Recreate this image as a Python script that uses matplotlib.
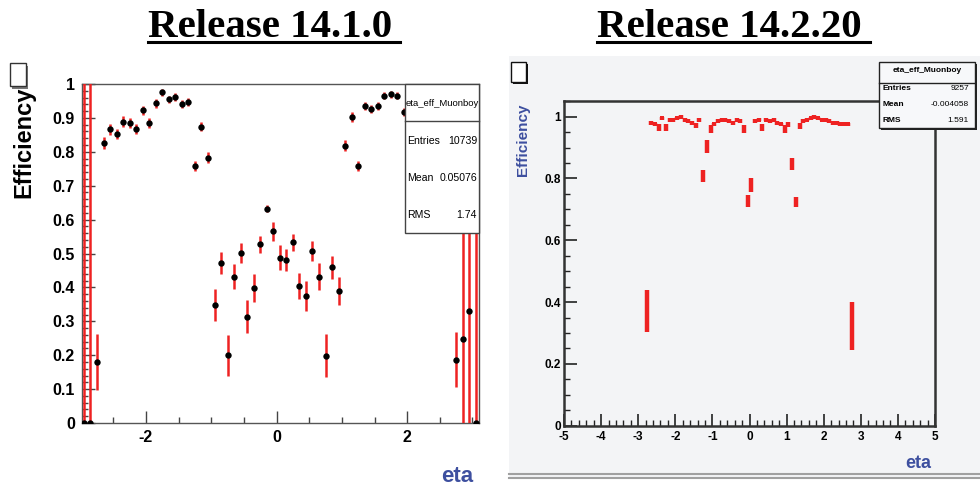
import matplotlib
matplotlib.use("Agg")
import matplotlib.pyplot as plt
from matplotlib.patches import Rectangle
from matplotlib.lines import Line2D
from matplotlib.ticker import MultipleLocator

W, H = 980, 487

# ---------------------------------------------------------------- data
# Release 14.1.0 : efficiency vs eta (black dots, red error bars)
old_eta = [-2.95, -2.85, -2.75,
           -2.65, -2.55, -2.45, -2.35, -2.25, -2.15, -2.05, -1.95, -1.85,
           -1.75, -1.65, -1.55, -1.45, -1.35, -1.25, -1.15, -1.05,
           -0.95, -0.85, -0.75, -0.65, -0.55, -0.45, -0.35, -0.25, -0.15, -0.05,
           0.05, 0.15, 0.25, 0.35, 0.45, 0.55, 0.65, 0.75, 0.85, 0.95,
           1.05, 1.15, 1.25, 1.35, 1.45, 1.55, 1.65, 1.75, 1.85, 1.95,
           2.75, 2.85, 2.95, 3.05]
old_eff = [0.0, 0.0, 0.18,
           0.827, 0.867, 0.852, 0.889, 0.885, 0.867, 0.922, 0.886, 0.943,
           0.975, 0.955, 0.961, 0.940, 0.947, 0.759, 0.874, 0.783,
           0.348, 0.472, 0.200, 0.432, 0.501, 0.314, 0.399, 0.527, 0.632, 0.565,
           0.488, 0.481, 0.533, 0.404, 0.374, 0.507, 0.432, 0.199, 0.459, 0.390,
           0.818, 0.903, 0.758, 0.934, 0.926, 0.934, 0.966, 0.970, 0.965, 0.917,
           0.187, 0.247, 0.331, 0.0]
old_err = [1.1, 1.1, 0.082,
           0.018, 0.016, 0.015, 0.016, 0.016, 0.015, 0.014, 0.015, 0.013,
           0.010, 0.011, 0.011, 0.012, 0.012, 0.015, 0.014, 0.015,
           0.046, 0.032, 0.061, 0.038, 0.029, 0.049, 0.041, 0.026, 0.010, 0.027,
           0.038, 0.032, 0.025, 0.038, 0.044, 0.029, 0.039, 0.064, 0.035, 0.042,
           0.016, 0.015, 0.014, 0.012, 0.012, 0.012, 0.010, 0.010, 0.010, 0.012,
           0.080, 1.0, 1.0, 1.1]
old_stats = [("Entries", "10739"), ("Mean", "0.05076"), ("RMS", "1.74")]

# Release 14.2.20 : efficiency vs eta (red squares)
new_eta = [-2.75, -2.65, -2.55, -2.45, -2.35, -2.25, -2.15, -2.05, -1.95, -1.85,
           -1.75, -1.65, -1.55, -1.45, -1.35, -1.25, -1.15, -1.05, -0.95, -0.85,
           -0.75, -0.65, -0.55, -0.45, -0.35, -0.25, -0.15, -0.05, 0.05, 0.15,
           0.25, 0.35, 0.45, 0.55, 0.65, 0.75, 0.85, 0.95, 1.05, 1.15,
           1.25, 1.35, 1.45, 1.55, 1.65, 1.75, 1.85, 1.95, 2.05, 2.15,
           2.25, 2.35, 2.45, 2.55, 2.65, 2.75]
new_eff = [0.370, 0.980, 0.975, 0.965, 0.995, 0.965, 0.990, 0.990, 0.995, 1.000,
           0.990, 0.985, 0.980, 0.970, 0.990, 0.808, 0.903, 0.960, 0.975, 0.985,
           0.990, 0.990, 0.985, 0.980, 0.990, 0.985, 0.960, 0.728, 0.779, 0.985,
           0.990, 0.965, 0.990, 0.985, 0.990, 0.980, 0.975, 0.960, 0.975, 0.847,
           0.725, 0.970, 0.985, 0.990, 0.995, 1.000, 0.995, 0.990, 0.990, 0.985,
           0.980, 0.980, 0.975, 0.975, 0.975, 0.322]
new_err = [0.068, 0.006, 0.006, 0.010, 0.005, 0.010, 0.006, 0.006, 0.005, 0.004,
           0.006, 0.006, 0.006, 0.008, 0.006, 0.020, 0.020, 0.012, 0.006, 0.006,
           0.005, 0.005, 0.006, 0.006, 0.005, 0.006, 0.012, 0.020, 0.022, 0.006,
           0.005, 0.012, 0.005, 0.006, 0.005, 0.006, 0.006, 0.012, 0.008, 0.020,
           0.016, 0.010, 0.006, 0.005, 0.005, 0.004, 0.005, 0.005, 0.005, 0.006,
           0.006, 0.006, 0.006, 0.006, 0.006, 0.077]
new_stats = [("Entries", "9257"), ("Mean", "-0.004058"), ("RMS", "1.591")]

old_yticks = [0, 0.1, 0.2, 0.3, 0.4, 0.5, 0.6, 0.7, 0.8, 0.9, 1]
old_ylabels = ["0", "0.1", "0.2", "0.3", "0.4", "0.5", "0.6", "0.7", "0.8", "0.9", "1"]
old_xticks = [-2, 0, 2]
new_yticks = [0, 0.2, 0.4, 0.6, 0.8, 1]
new_ylabels = ["0", "0.2", "0.4", "0.6", "0.8", "1"]
new_xticks = [-5, -4, -3, -2, -1, 0, 1, 2, 3, 4, 5]

RED = "#ee2222"
BLUE = "#3d4f9f"
PANEL = "#f3f4f6"
SANS = ["Liberation Sans", "DejaVu Sans"]


def fx(x):
    return x / W


def fy(y):
    return 1 - y / H


def frect(x0, y0, x1, y1, **kw):
    """rectangle given in pixel corners, drawn in figure coords"""
    return Rectangle((fx(x0), fy(y1)), fx(x1) - fx(x0), fy(y0) - fy(y1),
                     transform=fig.transFigure, **kw)


def fline(x0, y0, x1, y1, **kw):
    return Line2D([fx(x0), fx(x1)], [fy(y0), fy(y1)], transform=fig.transFigure, **kw)


fig = plt.figure(figsize=(W / 100, H / 100), dpi=100)
fig.patch.set_facecolor("white")

# ---------------------------------------------------------------- titles
for title, x0, x1 in [("Release 14.1.0", 148, 400), ("Release 14.2.20", 597, 870)]:
    fig.text(fx(x0), fy(37), title, ha="left", va="baseline", fontsize=29.5,
             fontweight="bold", family="Liberation Serif")
    fig.add_artist(fline(x0, 42, x1, 42, color="black", lw=2.2))

# ---------------------------------------------------------------- left panel
ax1 = fig.add_axes([fx(82), fy(423), fx(479) - fx(82), fy(84) - fy(423)])
ax1.errorbar(old_eta, old_eff, yerr=old_err, fmt="o", color="black", ms=4.6, mew=0,
             ecolor=RED, elinewidth=1.8, capsize=0, zorder=3)
ax1.set_xlim(-2.98, 3.10)
ax1.set_ylim(0, 1)
ax1.set_yticks(old_yticks)
ax1.set_yticklabels(old_ylabels)
ax1.set_xticks(old_xticks)
ax1.set_xticklabels([str(t) for t in old_xticks])
ax1.yaxis.set_minor_locator(MultipleLocator(0.02))
ax1.xaxis.set_minor_locator(MultipleLocator(0.5))
ax1.tick_params(which="major", direction="in", length=9, width=1, color="#444",
                labelsize=11.5, pad=5)
ax1.tick_params(which="minor", direction="in", length=4.5, width=1, color="#444")
for lbl in ax1.get_xticklabels() + ax1.get_yticklabels():
    lbl.set_fontweight("bold")
    lbl.set_family(SANS)
for s in ax1.spines.values():
    s.set_color("#555")
    s.set_linewidth(1)

fig.text(fx(24), fy(87), "Efficiency", rotation=90, ha="center", va="top",
         fontsize=17, fontweight="bold", family=SANS)
fig.text(fx(473), fy(476), "eta", ha="right", va="center", fontsize=16,
         fontweight="bold", color=BLUE, family=SANS)

# stats box
fig.add_artist(frect(405, 84, 479, 233, fc="white", ec="#444", lw=1, zorder=5))
fig.add_artist(fline(405, 121, 479, 121, color="#444", lw=1, zorder=6))
fig.text(fx(442), fy(103), "eta_eff_Muonboy", ha="center", va="center", fontsize=6.8,
         family=SANS, zorder=7)
for (name, val), y in zip(old_stats, [141, 178, 215]):
    fig.text(fx(407), fy(y), name, ha="left", va="center", fontsize=7.6,
             family=SANS, zorder=7)
    fig.text(fx(477), fy(y), val, ha="right", va="center", fontsize=7.6,
             family=SANS, zorder=7)

# ROOT canvas icon
fig.add_artist(frect(12, 66, 28, 89, fc="#777", ec="none", zorder=5))
fig.add_artist(frect(10, 63, 26, 86, fc="white", ec="#333", lw=1, zorder=6))

# ---------------------------------------------------------------- right panel
fig.add_artist(frect(509, 56, 980, 478, fc=PANEL, ec="none", zorder=-1))
fig.add_artist(fline(509, 473.5, 980, 473.5, color="#a0a0a0", lw=1.5))
fig.add_artist(fline(509, 477.5, 980, 477.5, color="#a0a0a0", lw=1.5))

ax2 = fig.add_axes([fx(564), fy(425.7), fx(935) - fx(564), fy(101) - fy(425.7)])
ax2.set_facecolor(PANEL)
ax2.errorbar(new_eta, new_eff, yerr=new_err, fmt="s", color=RED, ms=3.2, mew=0,
             ecolor=RED, elinewidth=3.2, capsize=0, zorder=3)
ax2.set_xlim(-5, 5)
ax2.set_ylim(0, 1.0508)
ax2.set_yticks(new_yticks)
ax2.set_yticklabels(new_ylabels)
ax2.set_xticks(new_xticks)
ax2.set_xticklabels([str(t) for t in new_xticks])
ax2.yaxis.set_minor_locator(MultipleLocator(0.05))
ax2.xaxis.set_minor_locator(MultipleLocator(0.2))
ax2.tick_params(which="major", direction="in", length=9, width=1.2, color="#222",
                labelsize=8.5)
ax2.tick_params(axis="y", which="major", pad=2)
ax2.tick_params(axis="x", which="major", pad=4)
ax2.tick_params(which="minor", direction="in", length=4, width=1, color="#222")
for lbl in ax2.get_xticklabels() + ax2.get_yticklabels():
    lbl.set_fontweight("bold")
    lbl.set_family(SANS)
for s in ax2.spines.values():
    s.set_color("#333")
    s.set_linewidth(1.8)

fig.text(fx(523), fy(103), "Efficiency", rotation=90, ha="center", va="top",
         fontsize=11, fontweight="bold", color=BLUE, family=SANS)
fig.text(fx(931), fy(464), "eta", ha="right", va="center", fontsize=13,
         fontweight="bold", color=BLUE, family=SANS)

# stats box
fig.add_artist(frect(881, 64, 977, 130, fc="#222", ec="none", zorder=5))
fig.add_artist(frect(879, 62, 975, 128, fc="#f7f8fa", ec="#222", lw=1, zorder=6))
fig.add_artist(fline(879, 82.7, 975, 82.7, color="#222", lw=1, zorder=7))
fig.text(fx(927), fy(70), "eta_eff_Muonboy", ha="center", va="center", fontsize=6,
         fontweight="bold", family=SANS, zorder=8)
for (name, val), y in zip(new_stats, [88, 104.7, 120.7]):
    fig.text(fx(882), fy(y), name, ha="left", va="center", fontsize=6,
             fontweight="bold", family=SANS, zorder=8)
    fig.text(fx(969), fy(y), val, ha="right", va="center", fontsize=6,
             family=SANS, zorder=8)

# ROOT canvas icon
fig.add_artist(frect(513, 64, 528, 84, fc="#111", ec="none", zorder=5))
fig.add_artist(frect(511, 62, 526, 82, fc="white", ec="#111", lw=1, zorder=6))

fig.savefig("out.png", dpi=100)
